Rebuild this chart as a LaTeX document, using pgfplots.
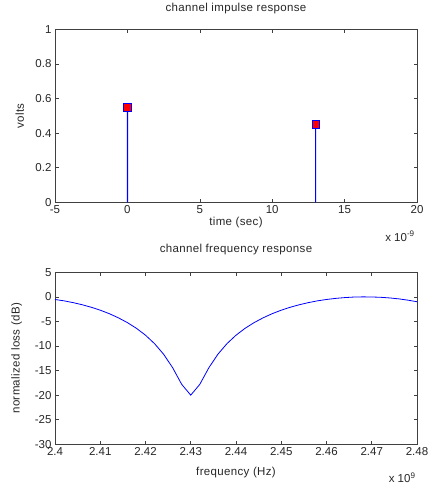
\documentclass[border=0pt]{standalone}
\usepackage{fontspec}
\setmainfont{Liberation Sans}
\usepackage{pgfplots}
\pgfplotsset{compat=1.18}

\newcommand{\lblfont}{\fontsize{11.5}{13}\selectfont\addfontfeatures{LetterSpace=3}}
\newcommand{\tickfont}{\fontsize{11.5}{13}\selectfont}

\pgfplotsset{
  mlab/.style={
    scale only axis,
    width=362pt, height=173pt,
    anchor=south west,
    tick align=inside,
    major tick length=3.5pt,
    axis line style={line width=0.7pt, black!75},
    major tick style={black!75, line width=0.6pt},
    tick label style={font=\tickfont, text=black!85},
    /pgf/number format/assume math mode=true,
    label style={font=\lblfont, text=black!85},
    title style={font=\lblfont, text=black!85},
    clip=false,
  }
}

\begin{document}
\begin{tikzpicture}
\useasboundingbox (0pt,0pt) rectangle (428pt,489pt);

% impulse response: two taps
\begin{axis}[mlab,
  at={(55pt,286.7pt)},
  xmin=-5, xmax=20, ymin=0, ymax=1,
  xtick={-5,0,5,10,15,20},
  ytick={0,0.2,0.4,0.6,0.8,1},
  yticklabels={0,0.2,0.4,0.6,0.8,1},
  title={channel impulse response},
  title style={at={(axis description cs:0.5,1.084)}, anchor=center},
  xlabel={time (sec)},
  xlabel style={at={(axis description cs:0.5,-0.115)}, anchor=center},
  ylabel={volts},
  ylabel style={at={(axis description cs:-0.097,0.5)}, anchor=center},
]
% stems as hairline bars
\addplot[ybar, bar width=1.2pt, fill=blue, draw=none, bar shift=0pt]
  coordinates {(0,0.55) (13,0.45)};
% tap markers
\addplot[only marks, mark=square*, mark size=3.8pt,
  mark options={fill=red, draw=blue, line width=0.5pt}]
  coordinates {(0,0.55) (13,0.45)};
\node[font=\tickfont, text=black!85, anchor=center] at (axis description cs:0.953,-0.197) {x 10\textsuperscript{-9}};
\end{axis}

% frequency response of the channel
\begin{axis}[mlab,
  at={(55pt,44.7pt)},
  height=172pt,
  xmin=2.4, xmax=2.48, ymin=-30, ymax=5,
  xtick={2.4,2.41,2.42,2.43,2.44,2.45,2.46,2.47,2.48},
  xticklabels={2.4,2.41,2.42,2.43,2.44,2.45,2.46,2.47,2.48},
  ytick={-30,-25,-20,-15,-10,-5,0,5},
  yticklabels={-30,-25,-20,-15,-10,-5,0,5},
  title={channel frequency response},
  title style={at={(axis description cs:0.5,1.095)}, anchor=center},
  xlabel={frequency (Hz)},
  xlabel style={at={(axis description cs:0.5,-0.167)}, anchor=center},
  ylabel={normalized loss (dB)},
  ylabel style={at={(axis description cs:-0.106,0.5)}, anchor=center},
]
\addplot[blue, line width=0.8pt] coordinates {
(2.400,-0.53) (2.402,-0.81) (2.404,-1.17) (2.406,-1.60) (2.408,-2.11)
(2.410,-2.71) (2.412,-3.42) (2.414,-4.26) (2.416,-5.24) (2.418,-6.40)
(2.420,-7.80) (2.422,-9.52) (2.424,-11.67) (2.426,-14.42) (2.428,-17.80)
(2.430,-20.00) (2.432,-17.80) (2.434,-14.42) (2.436,-11.67) (2.438,-9.52)
(2.440,-7.80) (2.442,-6.40) (2.444,-5.24) (2.446,-4.26) (2.448,-3.42)
(2.450,-2.71) (2.452,-2.11) (2.454,-1.60) (2.456,-1.17) (2.458,-0.81)
(2.460,-0.53) (2.462,-0.31) (2.464,-0.15) (2.466,-0.04) (2.468,0.00)
(2.470,-0.02) (2.472,-0.09) (2.474,-0.22) (2.476,-0.41) (2.478,-0.67)
(2.480,-0.99)
};
\node[font=\tickfont, text=black!85, anchor=center] at (axis description cs:0.959,-0.196) {x 10\textsuperscript{9}};
\end{axis}
\end{tikzpicture}
\end{document}
